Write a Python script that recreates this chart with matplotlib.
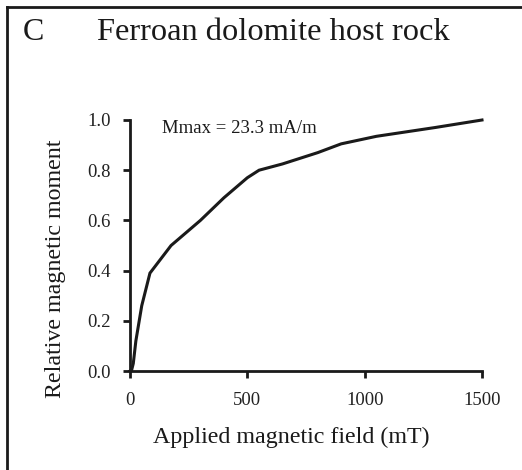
import matplotlib
matplotlib.use("Agg")
import matplotlib.pyplot as plt
from matplotlib.lines import Line2D

# Data
field_mT = [0, 7, 14, 25, 50, 85, 175, 300, 400, 500, 550, 650, 800, 900, 1050, 1300, 1500]
rel_moment = [0.0, 0.004, 0.03, 0.12, 0.26, 0.39, 0.50, 0.60, 0.69, 0.77, 0.80, 0.825, 0.87, 0.905, 0.935, 0.97, 1.0]
x_ticks = [0, 500, 1000, 1500]
y_ticks = [0.0, 0.2, 0.4, 0.6, 0.8, 1.0]
y_ticklabels = ["0.0", "0.2", "0.4", "0.6", "0.8", "1.0"]

plt.rcParams['font.family'] = ['Liberation Serif', 'DejaVu Serif']

W, H = 522, 470
fig = plt.figure(figsize=(W / 100, H / 100), dpi=100)
fig.patch.set_facecolor('white')

ax = fig.add_axes([130 / W, 1 - 371 / H, (482 - 130) / W, (371 - 120) / H])
ax.plot(field_mT, rel_moment, color='#1a1a1a', lw=2.2, solid_joinstyle='miter', clip_on=False)
ax.set_xlim(0, 1500)
ax.set_ylim(0, 1.0)
ax.set_xticks(x_ticks)
ax.set_yticks(y_ticks)
ax.set_yticklabels(y_ticklabels)
for s in ['top', 'right']:
    ax.spines[s].set_visible(False)
for s in ['left', 'bottom']:
    ax.spines[s].set_linewidth(2.0)
    ax.spines[s].set_color('#1a1a1a')
ax.tick_params(axis='y', direction='out', length=5, width=2.0, color='#1a1a1a',
               labelsize=13.5, pad=9, labelcolor='#222222')
ax.tick_params(axis='x', direction='out', length=5, width=2.0, color='#1a1a1a',
               labelsize=13.5, pad=10, labelcolor='#222222')
ax.text(136, 0.968, 'Mmax = 23.3 mA/m', fontsize=13.5, va='center', ha='left', color='#1a1a1a')

# Axis labels placed as in the reference
fig.text(55 / W, 1 - 269 / H, 'Relative magnetic moment', rotation=90, fontsize=17.3,
         ha='center', va='center', color='#1a1a1a')
fig.text(291 / W, 1 - 443 / H, 'Applied magnetic field (mT)', fontsize=17.3,
         ha='center', va='baseline', color='#1a1a1a')

# Panel letter and title
fig.text(23 / W, 1 - 40 / H, 'C', fontsize=23, ha='left', va='baseline', color='#1a1a1a')
fig.text(273 / W, 1 - 40 / H, 'Ferroan dolomite host rock', fontsize=23.4,
         ha='center', va='baseline', color='#1a1a1a')

# Panel frame (left and top edges)
fig.add_artist(Line2D([7 / W, 7 / W], [0, 1 - 7 / H], transform=fig.transFigure,
                      color='#1a1a1a', lw=2.0, solid_capstyle='projecting'))
fig.add_artist(Line2D([7 / W, 1], [1 - 7 / H, 1 - 7 / H], transform=fig.transFigure,
                      color='#1a1a1a', lw=2.0, solid_capstyle='projecting'))

fig.savefig('out.png', dpi=100, facecolor='white')
